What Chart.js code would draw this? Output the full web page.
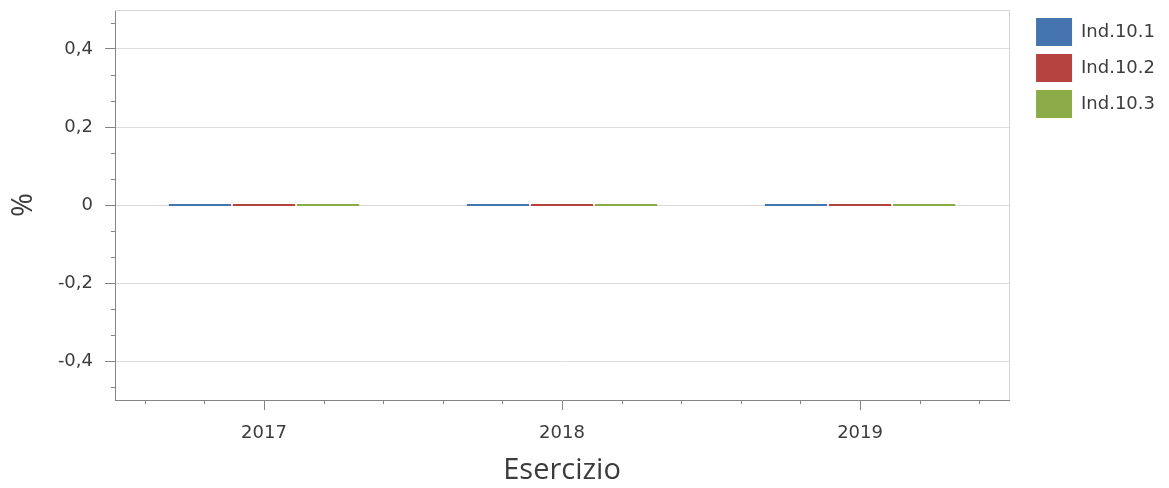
<!DOCTYPE html>
<html>
<head>
<meta charset="utf-8">
<title>Indicatori 10 - Esercizio</title>
<script src="https://cdn.jsdelivr.net/npm/chart.js@4.4.1/dist/chart.umd.min.js"></script>
<style>
  html, body { margin: 0; padding: 0; background: #fff; }
  #wrap { width: 1169px; height: 488px; }
</style>
</head>
<body>
<div id="wrap"><canvas id="chart" width="1169" height="488"></canvas></div>
<script>
// --- DATA ---
const years = ['2017', '2018', '2019'];
const ind101 = [0, 0, 0];
const ind102 = [0, 0, 0];
const ind103 = [0, 0, 0];
const seriesNames = ['Ind.10.1', 'Ind.10.2', 'Ind.10.3'];
const yMajorTicks = [0.4, 0.2, 0, -0.2, -0.4];
const yMin = -0.5;
const yMax = 0.5;

// --- STYLE ---
const fontFamily = '"DejaVu Sans", Tahoma, Verdana, sans-serif';
const titleFamily = '"Open Sans", "Segoe UI", sans-serif';
const textColor = '#3c3c3c';
const axisColor = '#858585';
const gridColor = '#dcdcdc';
const borderLight = '#d4d4d4';
const colors = ['#4674ae', '#b5433f', '#8aab47'];

// minor tick marks + light frame on top/right of plot
const frameAndMinorTicks = {
  id: 'frameAndMinorTicks',
  afterDraw(chart) {
    const { ctx, chartArea: a, scales: { x, y } } = chart;
    ctx.save();
    ctx.strokeStyle = borderLight;
    ctx.lineWidth = 1;
    ctx.beginPath();
    ctx.moveTo(a.left, Math.round(a.top) + 0.5);
    ctx.lineTo(Math.round(a.right) + 0.5, Math.round(a.top) + 0.5);
    ctx.lineTo(Math.round(a.right) + 0.5, a.bottom);
    ctx.stroke();

    ctx.strokeStyle = axisColor;
    ctx.beginPath();
    // y minor ticks: 2 between each labelled step
    const step = 0.2 / 3;
    for (let v = yMajorTicks[yMajorTicks.length - 1] - step; v < yMax - 1e-6; v += step) {
      if (v < yMin + 1e-6) continue;
      if (yMajorTicks.some(m => Math.abs(m - v) < 1e-6)) continue;
      const py = Math.round(y.getPixelForValue(v)) + 0.5;
      ctx.moveTo(a.left - 4, py);
      ctx.lineTo(a.left, py);
    }
    // x minor ticks
    years.forEach((_, i) => {
      [-0.4, -0.2, 0.2, 0.4].forEach(d => {
        const px = Math.round(x.getPixelForValue(i + d)) + 0.5;
        ctx.moveTo(px, a.bottom);
        ctx.lineTo(px, a.bottom + 4);
      });
    });
    ctx.stroke();
    ctx.restore();
  }
};

const ctx = document.getElementById('chart').getContext('2d');
new Chart(ctx, {
  type: 'bar',
  data: {
    labels: years,
    datasets: [ind101, ind102, ind103].map((values, i) => ({
      label: seriesNames[i],
      data: values,
      backgroundColor: colors[i],
      borderWidth: 0,
      minBarLength: 2,
      categoryPercentage: 0.645,
      barPercentage: 0.97,
    })),
  },
  options: {
    responsive: false,
    animation: false,
    layout: { padding: { top: 10, left: 0, right: 4, bottom: 0 } },
    plugins: {
      tooltip: { enabled: false },
      legend: {
        position: 'right',
        align: 'start',
        labels: {
          boxWidth: 36,
          boxHeight: 28,
          padding: 8,
          color: textColor,
          font: { family: fontFamily, size: 18 },
        },
      },
    },
    scales: {
      x: {
        offset: true,
        grid: {
          offset: false,
          drawOnChartArea: false,
          drawTicks: true,
          tickLength: 10,
          tickColor: axisColor,
        },
        border: { color: axisColor, width: 1 },
        ticks: {
          color: textColor,
          padding: 13,
          font: { family: fontFamily, size: 18 },
        },
        title: {
          display: true,
          text: 'Esercizio',
          color: textColor,
          font: { family: titleFamily, size: 29 },
          padding: { top: 0, bottom: 0 },
        },
        afterFit(scale) {
          scale.height = 88;
          scale.paddingLeft = 0;
          scale.paddingRight = 0;
        },
      },
      y: {
        min: yMin,
        max: yMax,
        afterBuildTicks(scale) { scale.ticks = yMajorTicks.map(v => ({ value: v })); },
        grid: {
          color: gridColor,
          tickColor: axisColor,
          tickLength: 10,
        },
        border: { color: axisColor, width: 1 },
        ticks: {
          color: textColor,
          padding: 12,
          font: { family: fontFamily, size: 18 },
          callback: (v) => String(+v.toFixed(1)).replace('.', ','),
        },
        title: {
          display: true,
          text: '%',
          color: textColor,
          font: { family: titleFamily, size: 29 },
          padding: { top: 6, bottom: 0 },
        },
        afterFit(scale) {
          scale.width = 115;
          scale.paddingTop = 0;
          scale.paddingBottom = 0;
        },
      },
      // empty spacer between plot and legend
      gap: {
        type: 'linear',
        position: 'right',
        display: true,
        grid: { display: false, drawTicks: false },
        border: { display: false },
        ticks: { display: false },
        afterFit(scale) {
          scale.width = 19;
          scale.paddingTop = 0;
          scale.paddingBottom = 0;
        },
      },
    },
  },
  plugins: [frameAndMinorTicks],
});
</script>
</body>
</html>
